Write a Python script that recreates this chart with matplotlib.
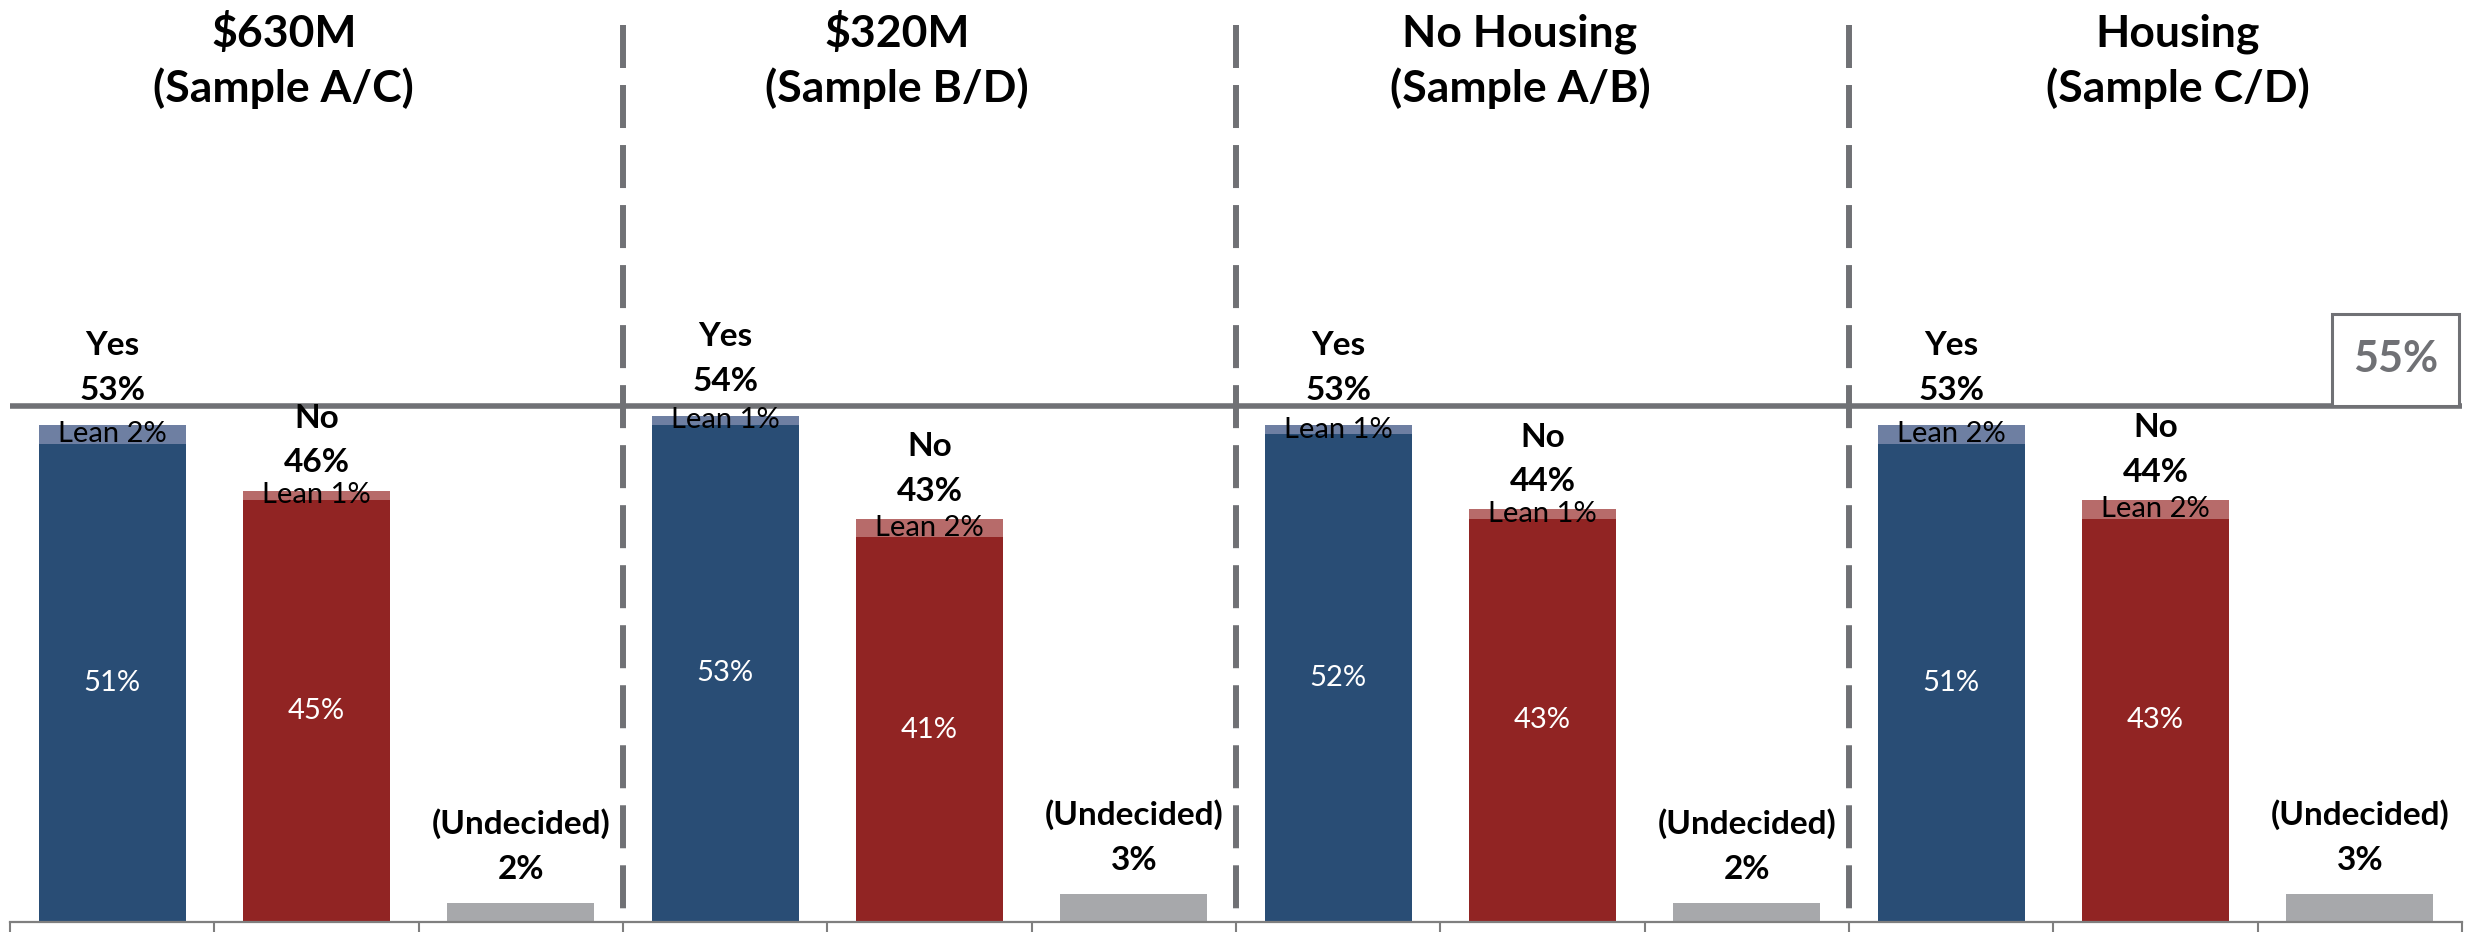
import numpy as np
import matplotlib
matplotlib.use("Agg")
import matplotlib.pyplot as plt
from matplotlib.patches import Rectangle

plt.rcParams['font.family'] = ['Lato', 'DejaVu Sans']

# data
groups = ['$630M\n(Sample A/C)', '$320M\n(Sample B/D)',
          'No Housing\n(Sample A/B)', 'Housing\n(Sample C/D)']
yes_firm = [51, 53, 52, 51]
yes_lean = [2, 1, 1, 2]
yes_total = [53, 54, 53, 53]
no_firm = [45, 41, 43, 43]
no_lean = [1, 2, 1, 2]
no_total = [46, 43, 44, 44]
undecided = [2, 3, 2, 3]
threshold = 55

# colours
BLUE = '#294D75'
BLUE_LEAN = '#6E7FA2'
RED = '#912423'
RED_LEAN = '#B76B6A'
GREY_BAR = '#A7A8AB'
LINE_GREY = '#707175'

W, H = 2469, 932
fig = plt.figure(figsize=(W / 100, H / 100), dpi=100)
ax = fig.add_axes([10 / W, 10 / H, 2452 / W, 922 / H])
ax.set_xlim(-0.5, 11.5)
ax.set_ylim(0, 98.3)

bw = 0.72
title_x = [0.84, 3.84, 6.89, 10.11]

for g in range(len(groups)):
    xy, xn, xu = 3 * g, 3 * g + 1, 3 * g + 2

    ax.bar(xy, yes_firm[g], width=bw, color=BLUE, zorder=2)
    ax.bar(xy, yes_lean[g], bottom=yes_firm[g], width=bw, color=BLUE_LEAN, zorder=2)
    ax.bar(xn, no_firm[g], width=bw, color=RED, zorder=2)
    ax.bar(xn, no_lean[g], bottom=no_firm[g], width=bw, color=RED_LEAN, zorder=2)
    ax.bar(xu, undecided[g], width=bw, color=GREY_BAR, zorder=2)

    # values inside the bars
    ax.text(xy, yes_firm[g] / 2, f'{yes_firm[g]}%', ha='center', va='center',
            color='white', fontsize=21, zorder=4)
    ax.text(xn, no_firm[g] / 2, f'{no_firm[g]}%', ha='center', va='center',
            color='white', fontsize=21, zorder=4)
    ax.text(xy, yes_firm[g] + yes_lean[g] / 2, f'Lean {yes_lean[g]}%',
            ha='center', va='center', color='black', fontsize=21, zorder=4)
    ax.text(xn, no_firm[g] + no_lean[g] / 2, f'Lean {no_lean[g]}%',
            ha='center', va='center', color='black', fontsize=21, zorder=4)

    # labels above the bars
    tops = [yes_firm[g] + yes_lean[g], no_firm[g] + no_lean[g], undecided[g]]
    texts = [f'Yes\n{yes_total[g]}%', f'No\n{no_total[g]}%',
             f'(Undecided)\n{undecided[g]}%']
    offs = [18, 13, 17.5]
    for x, top, t, o in zip([xy, xn, xu], tops, texts, offs):
        ax.annotate(t, (x, top), xytext=(0, o), textcoords='offset points',
                    ha='center', va='baseline', fontsize=24, fontweight='bold',
                    linespacing=1.65, zorder=5)

    ax.text(title_x[g], 87.4, groups[g], ha='center', va='baseline',
            fontsize=32, fontweight='bold', linespacing=1.4)

# group separators
for b in [2.5, 5.5, 8.5]:
    ax.plot([b, b], [95.6, 0], color=LINE_GREY, lw=4.3, dashes=(7.2, 2.85),
            zorder=1, clip_on=False)

# 55% threshold line and box
ax.axhline(threshold, color=LINE_GREY, lw=4, zorder=3)
ax.add_patch(Rectangle((10.866, threshold), 0.62, 9.8, facecolor='white',
                       edgecolor=LINE_GREY, lw=2.2, zorder=3, clip_on=False))
ax.text(11.175, threshold + 5.0, f'{threshold}%', ha='center', va='center',
        fontsize=31, color=LINE_GREY, fontweight='bold', zorder=4)

for s in ['top', 'left', 'right']:
    ax.spines[s].set_visible(False)
ax.spines['bottom'].set_color('#7f7f7f')
ax.spines['bottom'].set_linewidth(1.6)
ax.set_xticks(np.arange(-0.5, 12, 1))
ax.tick_params(axis='x', length=7.5, width=1.5, color='#7f7f7f',
               labelbottom=False, direction='out')
ax.set_yticks([])

fig.savefig('out.png', dpi=100)
